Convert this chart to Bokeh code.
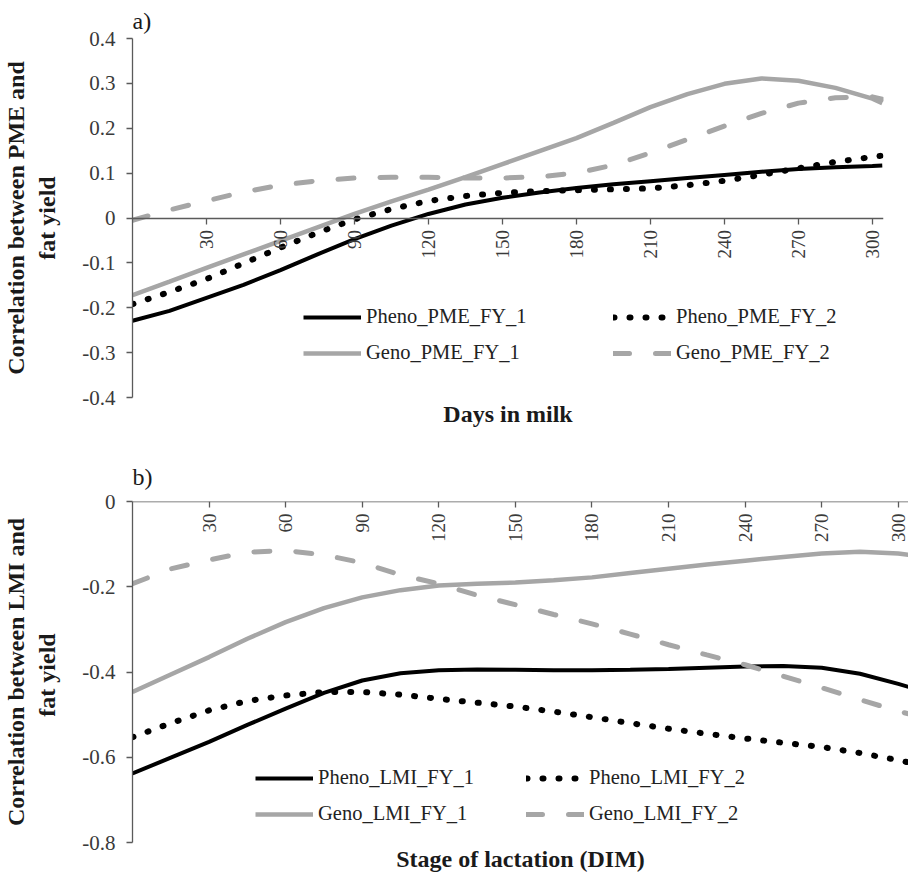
import math
from bokeh.plotting import figure
from bokeh.models import Range1d, LinearAxis, FixedTicker, Legend, LegendItem, Title
from bokeh.embed import file_html
from bokeh.resources import INLINE

# ---------------- data ----------------
days = [0, 15, 30, 45, 60, 75, 90, 105, 120, 135, 150, 165, 180, 195, 210,
        225, 240, 255, 270, 285, 300, 304]

# panel a) PME vs fat yield
pheno_pme_fy_1 = [-0.229, -0.207, -0.178, -0.149, -0.116, -0.081, -0.047, -0.017, 0.009, 0.030, 0.045,
                  0.057, 0.067, 0.075, 0.082, 0.089, 0.096, 0.103, 0.109, 0.113, 0.116, 0.117]
pheno_pme_fy_2 = [-0.192, -0.165, -0.136, -0.101, -0.066, -0.033, -0.003, 0.020, 0.038, 0.049, 0.056,
                  0.060, 0.062, 0.064, 0.066, 0.073, 0.083, 0.096, 0.111, 0.125, 0.136, 0.139]
geno_pme_fy_1 = [-0.172, -0.142, -0.111, -0.081, -0.051, -0.021, 0.009, 0.037, 0.063, 0.091, 0.120,
                 0.149, 0.178, 0.212, 0.247, 0.276, 0.299, 0.311, 0.306, 0.290, 0.266, 0.256]
geno_pme_fy_2 = [-0.005, 0.018, 0.038, 0.058, 0.073, 0.083, 0.089, 0.091, 0.091, 0.089, 0.089,
                 0.092, 0.100, 0.118, 0.145, 0.175, 0.205, 0.233, 0.256, 0.268, 0.270, 0.265]

# panel b) LMI vs fat yield
pheno_lmi_fy_1 = [-0.638, -0.601, -0.564, -0.524, -0.486, -0.449, -0.420, -0.403, -0.396, -0.394, -0.395,
                  -0.396, -0.396, -0.395, -0.393, -0.390, -0.387, -0.386, -0.390, -0.404, -0.428, -0.435]
pheno_lmi_fy_2 = [-0.553, -0.520, -0.490, -0.468, -0.455, -0.447, -0.447, -0.453, -0.463, -0.472, -0.481,
                  -0.493, -0.506, -0.520, -0.533, -0.545, -0.556, -0.566, -0.576, -0.590, -0.607, -0.612]
geno_lmi_fy_1 = [-0.447, -0.406, -0.365, -0.322, -0.283, -0.250, -0.225, -0.208, -0.197, -0.193, -0.190,
                 -0.185, -0.178, -0.168, -0.158, -0.148, -0.139, -0.130, -0.122, -0.118, -0.122, -0.125]
geno_lmi_fy_2 = [-0.193, -0.158, -0.137, -0.119, -0.115, -0.125, -0.144, -0.172, -0.193, -0.220, -0.242,
                 -0.265, -0.287, -0.311, -0.336, -0.360, -0.383, -0.410, -0.437, -0.465, -0.492, -0.498]

x_ticks = [30, 60, 90, 120, 150, 180, 210, 240, 270, 300]
y_ticks_a = [-0.4, -0.3, -0.2, -0.1, 0, 0.1, 0.2, 0.3, 0.4]
y_labels_a = ["-0.4", "-0.3", "-0.2", "-0.1", "0", "0.1", "0.2", "0.3", "0.4"]
y_ticks_b = [-0.8, -0.6, -0.4, -0.2, 0]
y_labels_b = ["-0.8", "-0.6", "-0.4", "-0.2", "0"]

names_a = ["Pheno_PME_FY_1", "Pheno_PME_FY_2", "Geno_PME_FY_1", "Geno_PME_FY_2"]
names_b = ["Pheno_LMI_FY_1", "Pheno_LMI_FY_2", "Geno_LMI_FY_1", "Geno_LMI_FY_2"]

SERIF = "Liberation Serif"
BLACK = "#000000"
GREY = "#a6a6a6"
AXIS = "#5a5a5a"
TXT = "#3a3a3a"


def style_line_kwargs(i):
    if i == 0:
        return dict(line_color=BLACK, line_width=4)
    if i == 1:
        return dict(line_color=BLACK, line_width=6, line_dash="1 15", line_cap="round")
    if i == 2:
        return dict(line_color=GREY, line_width=4.5)
    return dict(line_color=GREY, line_width=5, line_dash="16 26", line_cap="round")


def make_panel(height, x_end, y_start, y_end, yt, yl, ylabel, series, names,
               mb_top, mb_bottom, mb_right, xtitle, panel_label, label_standoff,
               leg_pos1, leg_pos2):
    p = figure(width=908, height=height, output_backend="svg", toolbar_location=None,
               x_range=Range1d(0, x_end), y_range=Range1d(y_start, y_end),
               x_axis_location=None, min_border_left=127, min_border_right=mb_right,
               min_border_top=mb_top, min_border_bottom=mb_bottom)
    p.outline_line_color = None
    p.grid.visible = False
    p.background_fill_color = "white"

    # y axis
    ya = p.yaxis[0]
    ya.ticker = FixedTicker(ticks=yt)
    ya.major_label_overrides = dict(zip(yt, yl))
    ya.minor_tick_line_color = None
    ya.major_tick_in = 0
    ya.major_tick_out = 6
    ya.axis_line_color = AXIS
    ya.axis_line_width = 1.3
    ya.major_tick_line_color = AXIS
    ya.major_tick_line_width = 1.3
    ya.major_label_text_font = SERIF
    ya.major_label_text_font_size = "21px"
    ya.major_label_text_color = TXT
    ya.major_label_standoff = 11
    ya.axis_label = ylabel
    ya.axis_label_text_font = SERIF
    ya.axis_label_text_font_size = "24px"
    ya.axis_label_text_font_style = "bold"
    ya.axis_label_text_color = "#1a1a1a"
    ya.axis_label_standoff = 19

    # x axis crossing at y = 0
    xa = LinearAxis(fixed_location=0, ticker=FixedTicker(ticks=x_ticks))
    xa.minor_tick_line_color = None
    xa.major_tick_in = 0
    xa.major_tick_out = 6
    xa.axis_line_color = AXIS
    xa.axis_line_width = 1.3
    xa.major_tick_line_color = AXIS
    xa.major_tick_line_width = 1.3
    xa.major_label_orientation = math.pi / 2
    xa.major_label_text_font = SERIF
    xa.major_label_text_font_size = "19px"
    xa.major_label_text_color = TXT
    xa.major_label_standoff = 6
    p.add_layout(xa, "below")

    rends = []
    for i, ys in enumerate(series):
        rends.append(p.line(days, ys, **style_line_kwargs(i)))

    for pos, idx in ((leg_pos1, (0, 2)), (leg_pos2, (1, 3))):
        lg = Legend(items=[LegendItem(label=names[k], renderers=[rends[k]]) for k in idx],
                    location=pos, orientation="vertical",
                    glyph_width=58, glyph_height=20, label_height=20,
                    label_standoff=5, spacing=13, padding=0, margin=0,
                    border_line_color=None, background_fill_alpha=0,
                    label_text_font=SERIF, label_text_font_size="20.5px",
                    label_text_color="#222222")
        p.add_layout(lg, "center")

    p.add_layout(Title(text=xtitle, align="center", text_font=SERIF, text_font_size="24px",
                       text_font_style="bold", text_color="#1a1a1a", standoff=2), "below")
    p.add_layout(Title(text=panel_label, align="left", text_font=SERIF, text_font_size="24px",
                       text_font_style="normal", text_color="#1a1a1a",
                       standoff=label_standoff), "above")
    return p


pa = make_panel(430, 304.5, -0.4, 0.4, y_ticks_a, y_labels_a,
                "Correlation between PME and\nfat yield",
                [pheno_pme_fy_1, pheno_pme_fy_2, geno_pme_fy_1, geno_pme_fy_2], names_a,
                37, 33, 25, "Days in milk", "a)", 10, (171, 33), (481, 33))

pb = make_panel(447, 304.0, -0.8, 0.0, y_ticks_b, y_labels_b,
                "Correlation between LMI and\nfat  yield",
                [pheno_lmi_fy_1, pheno_lmi_fy_2, geno_lmi_fy_1, geno_lmi_fy_2], names_b,
                71, 35, 0, "Stage of lactation (DIM)", "b)", 24, (123, 17), (394, 17))

open("out.html", "w").write(file_html([pa, pb], INLINE))
